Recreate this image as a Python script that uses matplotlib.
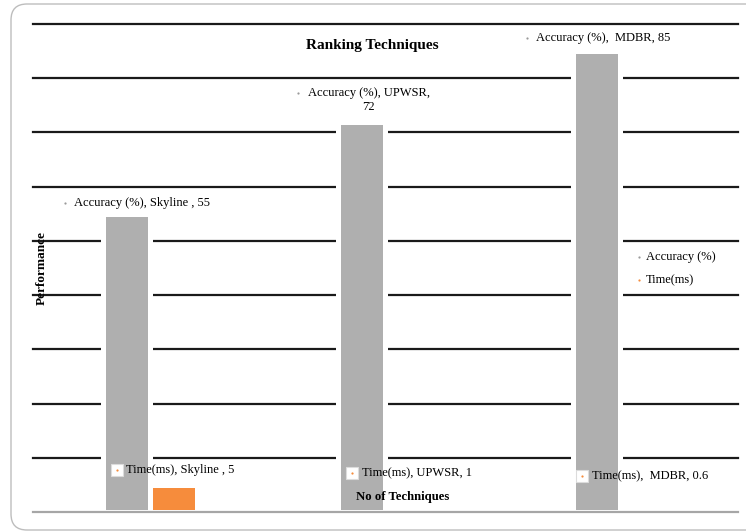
import matplotlib
matplotlib.use("Agg")
import matplotlib.pyplot as plt
from matplotlib.patches import FancyBboxPatch
from matplotlib.transforms import IdentityTransform, offset_copy
import numpy as np

# Data
techniques = ["Skyline ", "UPWSR", " MDBR"]
accuracy = [55, 72, 85]
time_ms = [5, 1, 0.6]
series_names = ["Accuracy (%)", "Time(ms)"]

GRAY = "#afafaf"
ORANGE = "#f68c3c"
DOT_GRAY = "#9a9a9a"

plt.rcParams["font.family"] = ["Liberation Serif", "DejaVu Serif"]

W, H = 746, 531
fig = plt.figure(figsize=(W / 100, H / 100), dpi=100)
ax = fig.add_axes([32.5 / W, 1 - 512 / H, 705 / W, 488 / H])

x = np.arange(len(techniques))
bw = 0.2
off = 0.1
edge_lw = 3.6  # white halo round each bar

ax.bar(x - off, accuracy, width=bw, color=GRAY, edgecolor="white",
       linewidth=edge_lw, zorder=2)
ax.bar(x + off, time_ms, width=bw, color=ORANGE, edgecolor="white",
       linewidth=edge_lw, zorder=3)

ax.set_xlim(-0.5, 2.5)
ax.set_ylim(0, 90)
for gy in np.arange(10, 91, 10):
    ax.axhline(gy, color="#1a1a1a", linewidth=1.6, zorder=1, clip_on=False)
ax.tick_params(left=False, bottom=False, labelleft=False, labelbottom=False)
for s in ["left", "right", "top"]:
    ax.spines[s].set_visible(False)
ax.spines["bottom"].set_color("#a6a6a6")
ax.spines["bottom"].set_linewidth(1.6)
ax.spines["bottom"].set_zorder(5)

fs = 9


def at(dx, dy):
    return offset_copy(ax.transData, fig=fig, x=dx, y=dy, units="dots")


# Accuracy data labels: (marker dx, text dx, dy) in pixels from the bar top
acc_offsets = [(-62, -52, 11), (-64, -54, 21.5), (-70, -60, 13)]
for i, (name, v) in enumerate(zip(techniques, accuracy)):
    mdx, tdx, dy = acc_offsets[i]
    mdy = dy
    if i == 1:
        label = f"{series_names[0]}, {name},\n{v}"
        mdy = dy + 7.5
    elif i == 2:
        label = f"{series_names[0]},  {name.strip()}, {v}"
    else:
        label = f"{series_names[0]}, {name}, {v}"
    xb = x[i] - off
    ax.text(xb, v, label, transform=at(tdx, dy), ha="left", va="center",
            multialignment="center", fontsize=fs, zorder=6, clip_on=False)
    ax.plot([xb], [v], marker="o", ms=1.6, color=DOT_GRAY, mec="none",
            transform=at(mdx, mdy), clip_on=False, zorder=6)

# Time data labels: (box dx, text dx, dy) in pixels from the bar top
time_offsets = [(-57, -47, 15), (-57, -47, 33.6), (-62, -52, 32.7)]
for i, (name, v) in enumerate(zip(techniques, time_ms)):
    bdx, tdx, dy = time_offsets[i]
    if i == 0:
        label = f"{series_names[1]}, {name}, {v:g}"
    elif i == 2:
        label = f"{series_names[1]},  {name.strip()}, {v:g}"
    else:
        label = f"{series_names[1]}, {name}, {v:g}"
    xb = x[i] + off
    ax.text(xb, v, label, transform=at(tdx, dy), ha="left", va="center",
            fontsize=fs, zorder=6, clip_on=False)
    ax.plot([xb], [v], marker="s", ms=8, mfc="white", mec="#dcdcdc", mew=0.8,
            transform=at(bdx, dy), clip_on=False, zorder=7)
    ax.plot([xb], [v], marker="o", ms=1.6, color=ORANGE, mec="none",
            transform=at(bdx, dy), clip_on=False, zorder=8)

# Titles
fig.text(372 / W, 1 - 46 / H, "Ranking Techniques", ha="center", va="center",
         fontsize=11, fontweight="bold")
fig.text(42 / W, 1 - 268 / H, "Performance", ha="center", va="center",
         rotation=90, fontsize=9.5, fontweight="bold")
fig.text(403 / W, 1 - 497 / H, "No of Techniques", ha="center", va="center",
         fontsize=9.2, fontweight="bold")

# Legend
for name, col, py in zip(series_names, [DOT_GRAY, ORANGE], [257, 280]):
    fig.add_artist(plt.Line2D([639 / W], [1 - py / H], marker="o", ms=1.6,
                              color=col, mec="none", transform=fig.transFigure))
    fig.text(646 / W, 1 - py / H, name, ha="left", va="center", fontsize=fs)

# Rounded outer frame
frame = FancyBboxPatch((11, 1), 760, 526,
                       boxstyle="round,pad=0,rounding_size=16",
                       transform=IdentityTransform(), fc="none",
                       ec="#bdbdbd", lw=1.0)
fig.add_artist(frame)

fig.savefig("out.png", dpi=100)
